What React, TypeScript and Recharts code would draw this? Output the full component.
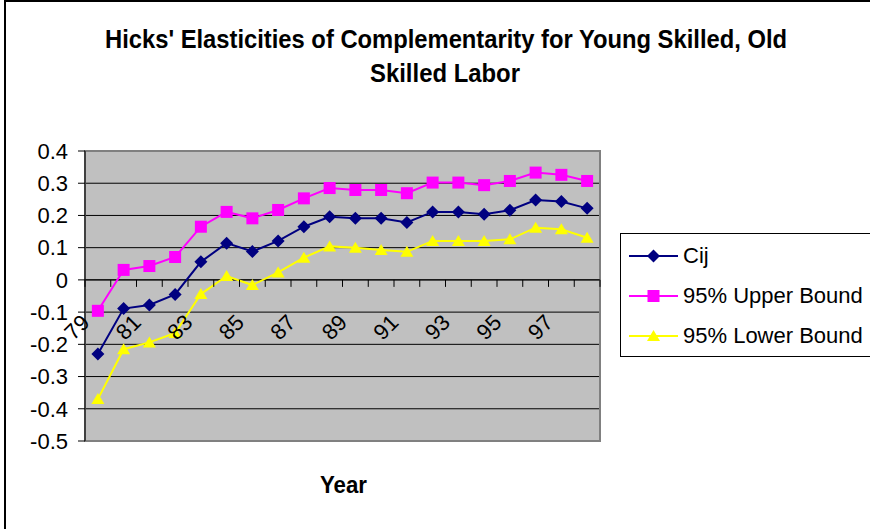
import React from 'react';
import { LineChart, Line, XAxis, YAxis, CartesianGrid, ReferenceLine, ReferenceArea } from 'recharts';

const years = ['79', '80', '81', '82', '83', '84', '85', '86', '87', '88', '89', '90', '91', '92', '93', '94', '95', '96', '97', '98'];
const cij = [-0.23, -0.089, -0.078, -0.045, 0.056, 0.114, 0.088, 0.121, 0.165, 0.196, 0.191, 0.191, 0.178, 0.211, 0.211, 0.204, 0.216, 0.248, 0.243, 0.222];
const upper = [-0.096, 0.031, 0.043, 0.071, 0.165, 0.211, 0.191, 0.217, 0.253, 0.285, 0.279, 0.279, 0.269, 0.302, 0.302, 0.294, 0.307, 0.333, 0.326, 0.307];
const lower = [-0.37, -0.215, -0.194, -0.165, -0.044, 0.012, -0.016, 0.023, 0.069, 0.104, 0.1, 0.093, 0.087, 0.121, 0.121, 0.121, 0.126, 0.162, 0.157, 0.131];
const yTicks = [-0.5, -0.4, -0.3, -0.2, -0.1, 0, 0.1, 0.2, 0.3, 0.4];

const series = [
	{ key: 'cij', name: 'Cij', color: '#000080', marker: 'diamond' },
	{ key: 'upper', name: '95% Upper Bound', color: '#FF00FF', marker: 'square' },
	{ key: 'lower', name: '95% Lower Bound', color: '#FFFF00', marker: 'triangle' },
];

const data = years.map((year, i) => ({ year, cij: cij[i], upper: upper[i], lower: lower[i] }));

const FONT = '"Liberation Sans", Arial, sans-serif';
const W = 870;
const H = 529;
const TOP = 151;
const LEFT = 85;
const PLOT_W = 515;
const PLOT_H = 290;
const Y_MIN = -0.5;
const Y_MAX = 0.4;
const ZERO_Y = TOP + (PLOT_H * Y_MAX) / (Y_MAX - Y_MIN);
const BAND = PLOT_W / years.length;

function Marker({ type, cx, cy, color }: any) {
	if (cx == null || cy == null) return null;
	if (type === 'square') return <rect x={cx - 6} y={cy - 6} width={12} height={12} fill={color} />;
	if (type === 'triangle')
		return <path d={`M${cx},${cy - 6}L${cx + 6.5},${cy + 5}L${cx - 6.5},${cy + 5}Z`} fill={color} />;
	return <path d={`M${cx},${cy - 6.5}L${cx + 6.5},${cy}L${cx},${cy + 6.5}L${cx - 6.5},${cy}Z`} fill={color} />;
}

function YearTick(props: any) {
	const { x, index, payload } = props;
	const half = BAND / 2;
	return (
		<g>
			<line x1={x - half} x2={x - half} y1={ZERO_Y} y2={ZERO_Y + 7} stroke='#000' />
			{index === years.length - 1 && <line x1={x + half} x2={x + half} y1={ZERO_Y} y2={ZERO_Y + 7} stroke='#000' />}
			{index % 2 === 0 && (
				<text
					transform={`translate(${x - 7},${ZERO_Y + 44}) rotate(-45)`}
					textAnchor='end'
					fontSize={22}
					fontFamily={FONT}
					fill='#000'
				>
					{payload.value}
				</text>
			)}
		</g>
	);
}

export default function App() {
	return (
		<div style={{ position: 'absolute', left: 0, top: 0, width: W, height: H, overflow: 'hidden', background: '#fff', fontFamily: FONT }}>
			<div style={{ position: 'absolute', left: 4, top: 0, width: 1000, height: 1000, border: '2px solid #000' }} />
			<svg width={W} height={H} style={{ position: 'absolute', left: 0, top: 0 }}>
				<text x={105} y={48} fontSize={26} fontWeight='bold' fontFamily={FONT} textLength={682} lengthAdjust='spacingAndGlyphs'>
					Hicks' Elasticities of Complementarity for Young Skilled, Old
				</text>
				<text x={445} y={82} fontSize={26} fontWeight='bold' fontFamily={FONT} textAnchor='middle' textLength={150} lengthAdjust='spacingAndGlyphs'>
					Skilled Labor
				</text>
				<text x={343.5} y={493} fontSize={24} fontWeight='bold' fontFamily={FONT} textAnchor='middle' textLength={47} lengthAdjust='spacingAndGlyphs'>
					Year
				</text>
			</svg>
			<div style={{ position: 'absolute', left: 0, top: 0 }}>
				<LineChart width={W} height={H} data={data} margin={{ top: TOP, right: W - LEFT - PLOT_W, bottom: H - TOP - PLOT_H - 30, left: 0 }}>
					<CartesianGrid vertical={false} fill='#C0C0C0' fillOpacity={1} stroke='#000' strokeOpacity={1} />
					<ReferenceArea y1={Y_MIN} y2={Y_MAX} fill='none' stroke='#808080' strokeWidth={2} fillOpacity={0} />
					<ReferenceLine y={0} stroke='#000' strokeWidth={1} />
					<XAxis dataKey='year' scale='band' interval={0} axisLine={false} tickLine={false} height={30} tick={<YearTick />} />
					<YAxis
						width={LEFT}
						domain={[Y_MIN, Y_MAX]}
						ticks={yTicks}
						interval={0}
						tickFormatter={(v: number) => (v === 0 ? '0' : v.toFixed(1))}
						axisLine={{ stroke: '#000' }}
						tickLine={{ stroke: '#000' }}
						tickSize={7}
						tickMargin={10}
						tick={{ fontSize: 22, fill: '#000', fontFamily: FONT }}
					/>
					{series.map((s) => (
						<Line
							key={s.key}
							dataKey={s.key}
							name={s.name}
							type='linear'
							stroke={s.color}
							strokeWidth={2}
							isAnimationActive={false}
							dot={(p: any) => <Marker key={`${s.key}-${p.index}`} type={s.marker} cx={p.cx} cy={p.cy} color={s.color} />}
							activeDot={false}
						/>
					))}
				</LineChart>
			</div>
			<div
				style={{
					position: 'absolute',
					left: 620,
					top: 233,
					width: 300,
					height: 124,
					border: '1px solid #000',
					background: '#fff',
					paddingTop: 2,
					boxSizing: 'border-box',
				}}
			>
				{series.map((s) => (
					<div key={s.key} style={{ height: 40, display: 'flex', alignItems: 'center' }}>
						<svg width={54} height={20} style={{ marginLeft: 8 }}>
							<line x1={0} x2={49} y1={10} y2={10} stroke={s.color} strokeWidth={2} />
							<Marker type={s.marker} cx={24.5} cy={10} color={s.color} />
						</svg>
						<span style={{ fontSize: 22, color: '#000', lineHeight: '22px' }}>{s.name}</span>
					</div>
				))}
			</div>
		</div>
	);
}
